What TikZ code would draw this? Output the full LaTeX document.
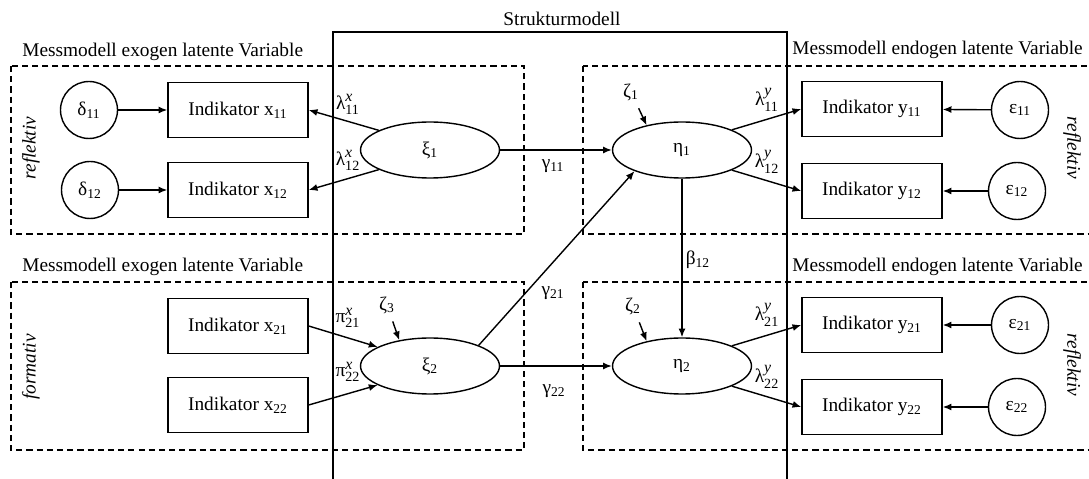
\documentclass[tikz,border=0pt]{standalone}
\usepackage{fontspec}
\setmainfont{LiberationSerif}[Extension=.ttf, UprightFont=*-Regular,
  ItalicFont=*-Italic, BoldFont=*-Bold, BoldItalicFont=*-BoldItalic]
\usetikzlibrary{arrows.meta, shapes.geometric}

\newcommand{\coef}[3]{$\mbox{#1}^{\mbox{\small\itshape #2}}_{\mbox{\footnotesize #3}}$}

\begin{document}
\begin{tikzpicture}[x=0.02cm, y=-0.02cm, font=\fontsize{11}{13}\selectfont,
    indicator/.style={draw, line width=0.8pt, minimum width=2.8cm,
      minimum height=1.1cm, inner sep=0pt},
    errvar/.style={draw, circle, line width=0.8pt, minimum size=1.14cm, inner sep=0pt},
    latent/.style={draw, ellipse, line width=0.8pt, minimum width=2.78cm,
      minimum height=1.12cm, inner sep=0pt},
    arrow/.style={-{Latex[length=5pt, width=4pt]}, line width=0.8pt},
    region/.style={draw, dash pattern=on 3.5pt off 2.3pt, line width=0.7pt},
    heading/.style={anchor=west, inner sep=0pt},
    mode/.style={font=\fontsize{11}{13}\selectfont\itshape, inner sep=0pt},
  ]
    \useasboundingbox (0,0) rectangle (1089,479);
    \clip (0,0) rectangle (1089,479);

    % regions
    \draw[line width=0.8pt] (333,490) -- (333,32) -- (787,32) -- (787,490);
    \node (struct) at (562,19) {Strukturmodell};
    \path[region] (11,66) rectangle (524,234);
    \path[region] (583,66) rectangle (1100,234);
    \path[region] (11,282) rectangle (524,450);
    \path[region] (583,282) rectangle (1100,450);
    \node[heading] (hexo1) at (22,52) {Messmodell exogen latente Variable};
    \node[heading] (hexo2) at (22,267) {Messmodell exogen latente Variable};
    \node[heading] (hendo1) at (792,50) {Messmodell endogen latente Variable};
    \node[heading] (hendo2) at (792,267) {Messmodell endogen latente Variable};
    \node[mode, rotate=90] (m1) at (31,148) {reflektiv};
    \node[mode, rotate=90] (m2) at (31,367) {formativ};
    \node[mode, rotate=-90] (m3) at (1072,148) {reflektiv};
    \node[mode, rotate=-90] (m4) at (1072,365) {reflektiv};

    % exogen
    \node[errvar] (delta11) at (89,110) {δ\textsubscript{11}};
    \node[errvar] (delta12) at (90,190) {δ\textsubscript{12}};
    \node[indicator] (x11) at (238,110) {Indikator x\textsubscript{11}};
    \node[indicator] (x12) at (238,190) {Indikator x\textsubscript{12}};
    \node[indicator] (x21) at (238,326) {Indikator x\textsubscript{21}};
    \node[indicator] (x22) at (238,405) {Indikator x\textsubscript{22}};
    \node[latent] (xi1) at (430,150) {ξ\textsubscript{1}};
    \node[latent] (xi2) at (430,366) {ξ\textsubscript{2}};

    % endogen
    \node[latent] (eta1) at (682,150) {η\textsubscript{1}};
    \node[latent] (eta2) at (682,366) {η\textsubscript{2}};
    \node[indicator] (y11) at (872,109) {Indikator y\textsubscript{11}};
    \node[indicator] (y12) at (872,191) {Indikator y\textsubscript{12}};
    \node[indicator] (y21) at (872,325) {Indikator y\textsubscript{21}};
    \node[indicator] (y22) at (872,407) {Indikator y\textsubscript{22}};
    \node[errvar] (eps11) at (1020,110) {ε\textsubscript{11}};
    \node[errvar] (eps12) at (1017,191) {ε\textsubscript{12}};
    \node[errvar] (eps21) at (1020,325) {ε\textsubscript{21}};
    \node[errvar] (eps22) at (1017,407) {ε\textsubscript{22}};

    % disturbances
    \node (zeta1) at (631,92) {ζ\textsubscript{1}};
    \node (zeta2) at (633,306) {ζ\textsubscript{2}};
    \node (zeta3) at (387,305) {ζ\textsubscript{3}};

    % paths
    \draw[arrow] (delta11) -- (x11);
    \draw[arrow] (delta12) -- (x12);
    \draw[arrow] (xi1.159) -- (x11.east);
    \draw[arrow] (xi1.201) -- (x12.east);
    \draw[arrow] (x21.east) -- (xi2.160);
    \draw[arrow] (x22.east) -- (xi2.200);
    \draw[arrow] (xi1) -- (eta1);
    \draw[arrow] (xi2) -- (eta2);
    \draw[arrow] (xi2.23) -- (eta1.204);
    \draw[arrow] (eta1) -- (eta2);
    \draw[arrow] (eta1.22) -- (y11.west);
    \draw[arrow] (eta1.-22) -- (y12.west);
    \draw[arrow] (eta2.22) -- (y21.west);
    \draw[arrow] (eta2.-22) -- (y22.west);
    \draw[arrow] (eps11) -- (y11);
    \draw[arrow] (eps12) -- (y12);
    \draw[arrow] (eps21) -- (y21);
    \draw[arrow] (eps22) -- (y22);
    \draw[arrow, shorten <=1pt] (zeta1) -- (eta1.145);
    \draw[arrow, shorten <=1pt] (zeta2) -- (eta2.145);
    \draw[arrow, shorten <=1pt] (zeta3) -- (xi2.140);

    % coefficients
    \node (lx11) at (348,104) {\coef{λ}{x}{11}};
    \node (lx12) at (348,160) {\coef{λ}{x}{12}};
    \node (px21) at (348,318) {\coef{π}{x}{21}};
    \node (px22) at (348,372) {\coef{π}{x}{22}};
    \node (ly11) at (767,100) {\coef{λ}{y}{11}};
    \node (ly12) at (767,162) {\coef{λ}{y}{12}};
    \node (ly21) at (767,315) {\coef{λ}{y}{21}};
    \node (ly22) at (767,377) {\coef{λ}{y}{22}};
    \node (g11) at (553,166) {γ\textsubscript{11}};
    \node (g21) at (553,293) {γ\textsubscript{21}};
    \node (g22) at (554,391) {γ\textsubscript{22}};
    \node (b12) at (698,260) {β\textsubscript{12}};
\end{tikzpicture}
\end{document}
